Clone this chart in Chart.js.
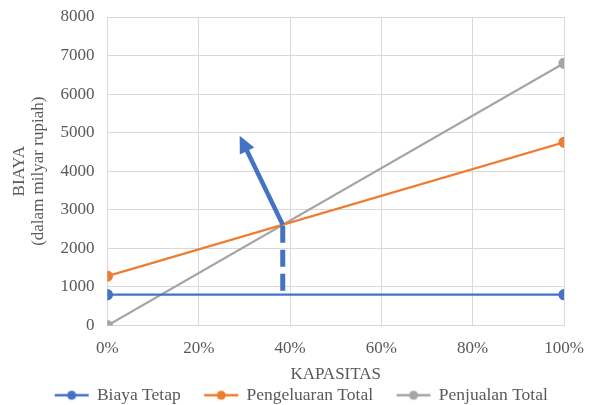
<!DOCTYPE html>
<html><head><meta charset="utf-8">
<script src="https://cdn.jsdelivr.net/npm/chart.js@4/dist/chart.umd.min.js"></script>
<style>html,body{margin:0;padding:0;background:#fff}#wrap{width:592px;height:405px}</style>
</head><body><div id="wrap"><canvas id="c" width="592" height="405"></canvas></div>
<script>
const kapasitas = [0, 100];
const xTicks = [0, 20, 40, 60, 80, 100];
const biayaTetap = [800, 800];
const pengeluaranTotal = [1280, 4750];
const penjualanTotal = [0, 6800];
const seriesNames = ['Biaya Tetap', 'Pengeluaran Total', 'Penjualan Total'];
const bepLineX = [38.4, 38.4];
const bepLineY = [900, 2610];
const arrowX = [38.4, 30.2];
const arrowY = [2610, 4620];

const BLUE = '#4472C4', ORANGE = '#ED7D31', GRAY = '#A5A5A5';
const FONT = 'Liberation Serif';
const pts = (xs, ys) => xs.map((x, i) => ({x, y: ys[i]}));

function legendIcon(color) {
  const c = document.createElement('canvas');
  c.width = 64; c.height = 12;
  const g = c.getContext('2d');
  g.strokeStyle = color; g.lineWidth = 2.5;
  g.beginPath(); g.moveTo(26, 6); g.lineTo(60, 6); g.stroke();
  g.fillStyle = color; g.beginPath(); g.arc(43, 6, 4.5, 0, Math.PI * 2); g.fill();
  return c;
}
const icons = [legendIcon(BLUE), legendIcon(ORANGE), legendIcon(GRAY)];

const arrowHead = {
  id: 'arrowHead',
  afterLayout(chart) {
    if (chart.legend) { chart.legend.left -= 8; chart.legend.right -= 8; }
  },
  afterDatasetsDraw(chart) {
    const idx = chart.data.datasets.findIndex(d => d.isArrow);
    const meta = chart.getDatasetMeta(idx);
    const p0 = meta.data[0], p1 = meta.data[1];
    const ang = Math.atan2(p1.y - p0.y, p1.x - p0.x);
    const ctx = chart.ctx;
    ctx.save();
    ctx.translate(p1.x, p1.y); ctx.rotate(ang);
    ctx.fillStyle = BLUE;
    ctx.beginPath(); ctx.moveTo(13, 0); ctx.lineTo(-4, -8); ctx.lineTo(-4, 8); ctx.closePath(); ctx.fill();
    ctx.restore();
  }
};

new Chart(document.getElementById('c'), {
  type: 'line',
  data: {
    datasets: [
      {label: seriesNames[0], data: pts(kapasitas, biayaTetap), borderColor: BLUE, backgroundColor: BLUE, borderWidth: 2.25, pointRadius: 4.5, order: 0},
      {label: seriesNames[1], data: pts(kapasitas, pengeluaranTotal), borderColor: ORANGE, backgroundColor: ORANGE, borderWidth: 2.25, pointRadius: 4.5, order: 0},
      {label: seriesNames[2], data: pts(kapasitas, penjualanTotal), borderColor: GRAY, backgroundColor: GRAY, borderWidth: 2.25, pointRadius: 4.5, order: 0},
      {label: 'bep', data: pts(bepLineX, bepLineY), borderColor: BLUE, borderWidth: 5, borderDash: [17, 7], pointRadius: 0, borderCapStyle: 'butt', order: -1},
      {label: 'arrow', isArrow: true, data: pts(arrowX, arrowY), borderColor: BLUE, borderWidth: 4.5, pointRadius: 0, borderCapStyle: 'butt', order: -1}
    ]
  },
  options: {
    animation: false, responsive: false, devicePixelRatio: 1,
    layout: {padding: {left: 10, right: 5, top: 1, bottom: -9}},
    plugins: {
      tooltip: {enabled: false},
      legend: {
        position: 'bottom',
        labels: {
          usePointStyle: true, pointStyleWidth: 55,
          generateLabels() {
            return [0, 1, 2].map(i => ({text: seriesNames[i], datasetIndex: i, pointStyle: icons[i], fillStyle: 'transparent', strokeStyle: 'transparent', lineWidth: 0, fontColor: '#595959'}));
          },
          color: '#595959', padding: 2,
          font: {family: FONT, size: 17.5, lineHeight: 1}
        }
      }
    },
    scales: {
      x: {
        type: 'linear', min: 0, max: 100,
        afterBuildTicks(s) { s.ticks = xTicks.map(v => ({value: v})); },
        afterFit(s) { s.paddingRight = 28; },
        ticks: {callback: v => v + '%', color: '#595959', font: {family: FONT, size: 17, lineHeight: 1}, padding: 15, maxRotation: 0},
        grid: {color: '#d9d9d9', drawTicks: false},
        border: {color: '#d9d9d9'},
        title: {display: true, text: 'KAPASITAS', color: '#595959', font: {family: FONT, size: 17, lineHeight: 1}, padding: {top: -6, bottom: 1}}
      },
      y: {
        min: 0, max: 8000,
        afterFit(s) { s.paddingTop = 17; },
        ticks: {stepSize: 1000, callback: v => String(v), color: '#595959', font: {family: FONT, size: 17}, padding: 13},
        grid: {color: '#d9d9d9', drawTicks: false},
        border: {color: '#d9d9d9'},
        title: {display: true, text: ['BIAYA', '(dalam milyar rupiah)'], color: '#595959', font: {family: FONT, size: 17, lineHeight: 1.1}, padding: {top: 0, bottom: 0}}
      }
    }
  },
  plugins: [arrowHead]
});
</script></body></html>
